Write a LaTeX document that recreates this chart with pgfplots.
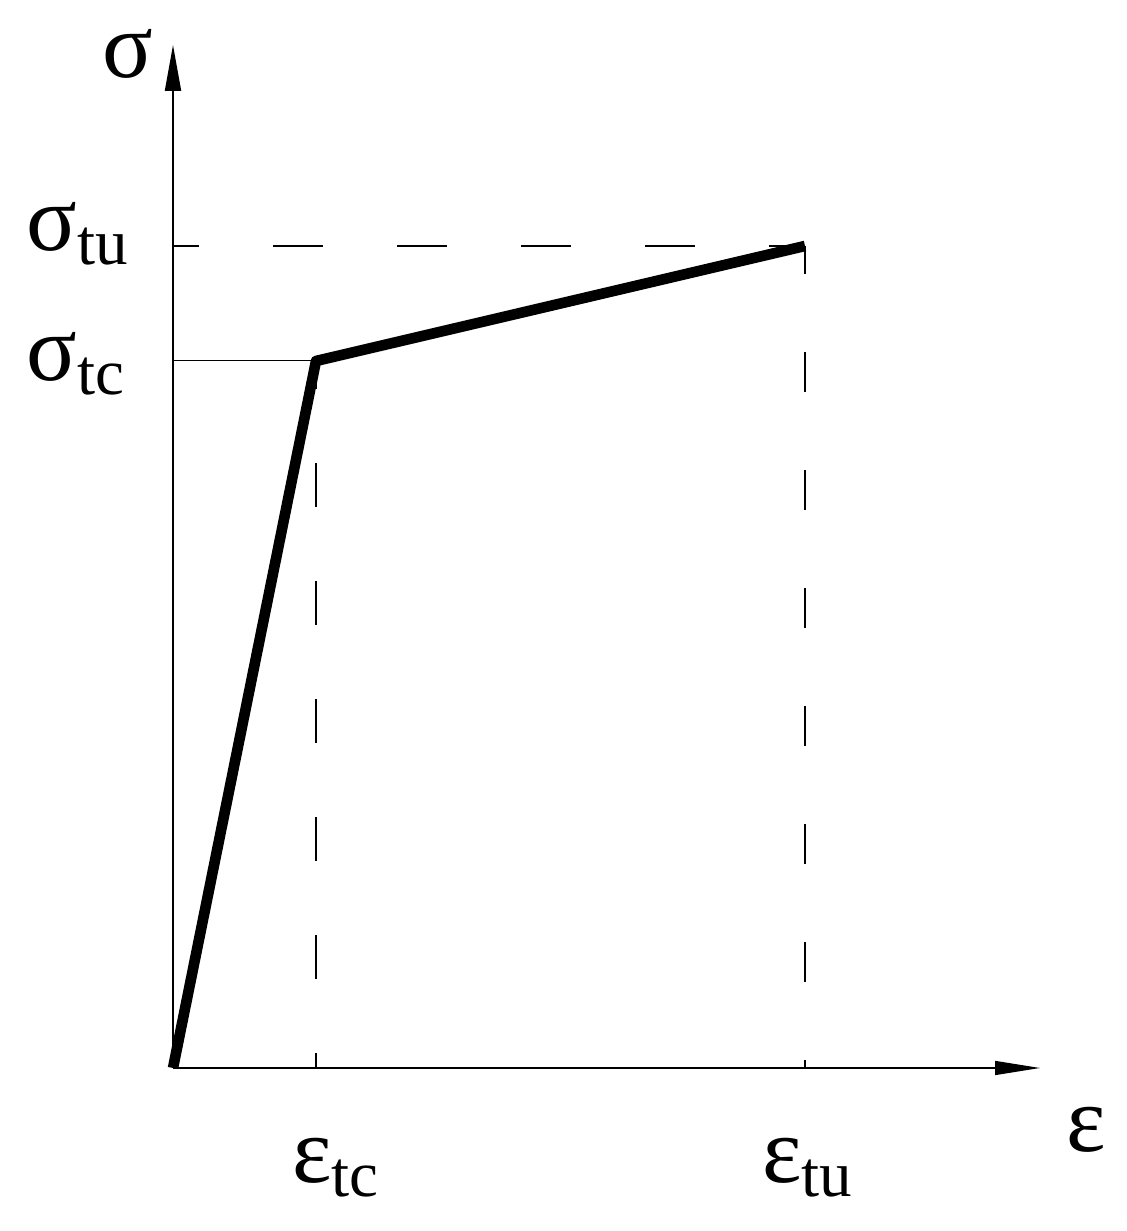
\documentclass[border=0pt]{standalone}
\usepackage{fontspec}
\setmainfont{Liberation Serif}
\usepackage{pgfplots}
\pgfplotsset{compat=1.18}
\usetikzlibrary{arrows.meta}
\newcommand{\bigf}{\fontsize{47}{47}\selectfont}
\newcommand{\subf}[1]{\raisebox{-7pt}{\fontsize{32.5}{32.5}\selectfont #1}}
\begin{document}
\begin{tikzpicture}
\begin{axis}[
  x=0.5pt, y=0.5pt,
  xmin=-173, xmax=953, ymin=-163, ymax=1068,
  axis lines=none, clip=false,
]
% thin lines
\addplot[black, line width=0.5pt] coordinates {(0,707) (143,707)};
\addplot[black, line width=0.55pt, dash pattern=on 25pt off 37pt, dash phase=12pt] coordinates {(0,822) (632,822)};
\addplot[black, line width=0.55pt, dash pattern=on 22pt off 37pt, dash phase=8pt] coordinates {(143,707) (143,0)};
\addplot[black, line width=0.55pt, dash pattern=on 20pt off 39pt, dash phase=6pt] coordinates {(632,822) (632,0)};
% axes
\draw[line width=0.7pt, -{Triangle[length=22.5pt, width=7pt]}] (axis cs:0,0) -- (axis cs:867,0);
\draw[line width=1pt, -{Triangle[length=23pt, width=8pt]}] (axis cs:0,0) -- (axis cs:0,1023);
% curve
\addplot[black, line width=5.3pt, line join=round, line cap=butt] coordinates {(0,0) (143,707) (632,822)};
% labels
\node[anchor=base west, inner sep=0pt] at (axis cs:-71,990) {\bigf σ};
\node[anchor=base west, inner sep=0pt] at (axis cs:-147,817) {\bigf σ\subf{tu}};
\node[anchor=base west, inner sep=0pt] at (axis cs:-147,687) {\bigf σ\subf{tc}};
\node[anchor=base west, inner sep=0pt] at (axis cs:119,-115) {\bigf ε\subf{tc}};
\node[anchor=base west, inner sep=0pt] at (axis cs:589,-115) {\bigf ε\subf{tu}};
\node[anchor=base west, inner sep=0pt] at (axis cs:893,-84) {\bigf ε};
\coordinate (bl) at (axis cs:-173,-163);
\coordinate (tr) at (axis cs:953,1068);
\end{axis}
\pgfresetboundingbox
\path (bl) rectangle (tr);
\end{tikzpicture}
\end{document}
